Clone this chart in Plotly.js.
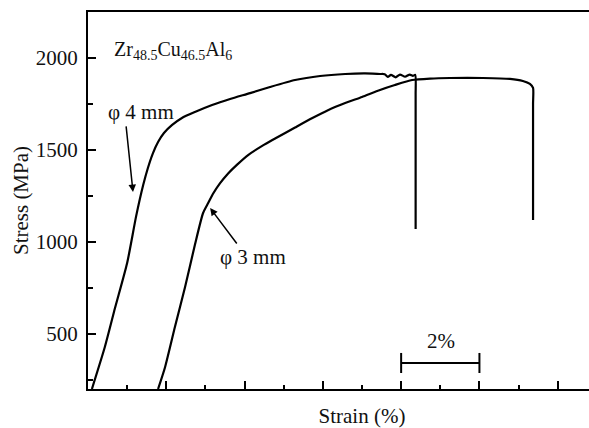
<!DOCTYPE html>
<html>
<head>
<meta charset="utf-8">
<script src="https://cdn.plot.ly/plotly-3.0.1.min.js"></script>
<style>
html,body{margin:0;padding:0;overflow:hidden;background:#fff;width:589px;height:428px;}
#chart{width:636px;height:428px;}
</style>
</head>
<body>
<div id="chart"></div>
<script>
// phi 4 mm sample: strain (%) and stress (MPa)
var strain4 = [0.10, 0.43, 0.69, 1.00, 1.23, 1.41, 1.53, 1.66, 1.79, 1.94, 2.15, 2.40, 2.73, 3.17, 3.63, 4.14, 4.65, 5.29, 5.93, 6.57, 7.08, 7.46, 7.58, 7.66, 7.74, 7.86, 7.97, 8.10, 8.22, 8.30, 8.36, 8.37, 8.37];
var stress4 = [200, 428, 640, 885, 1140, 1309, 1402, 1483, 1543, 1592, 1636, 1674, 1706, 1744, 1777, 1809, 1842, 1880, 1902, 1913, 1916, 1913, 1912, 1897, 1908, 1895, 1910, 1898, 1910, 1903, 1908, 1800, 1070];
// phi 3 mm sample
var strain3 = [1.79, 1.97, 2.22, 2.48, 2.73, 2.94, 3.07, 3.19, 3.37, 3.58, 3.81, 4.09, 4.45, 4.78, 5.29, 5.72, 6.13, 6.57, 7.00, 7.46, 7.84, 8.28, 8.74, 9.25, 10.09, 10.78, 11.11, 11.29, 11.37, 11.37, 11.37];
var stress3 = [200, 320, 537, 755, 983, 1157, 1211, 1260, 1318, 1372, 1420, 1472, 1522, 1562, 1622, 1672, 1716, 1755, 1788, 1826, 1853, 1880, 1888, 1891, 1891, 1886, 1875, 1859, 1837, 1750, 1119];
// scale bar (2 % strain)
var barStart = 8, barEnd = 10, barLevel = 341, barCapLow = 287, barCapHigh = 396;
var barLabel = '2%';
var yTickVals = [500, 1000, 1500, 2000];
var yTickText = ['500', '1000', '1500', '2000'];

var F = 'Liberation Serif, Times New Roman, serif';
var lineStyle = {color: '#000', width: 2.2, shape: 'spline', smoothing: 0.6};
var TXT = '#111';

var traces = [
  {x: strain4, y: stress4, mode: 'lines', line: lineStyle, name: '\u03c6 4 mm', hoverinfo: 'skip'},
  {x: strain3, y: stress3, mode: 'lines', line: lineStyle, name: '\u03c6 3 mm', hoverinfo: 'skip'},
  {x: [barStart, barStart, null, barStart, barEnd, null, barEnd, barEnd],
   y: [barCapLow, barCapHigh, null, barLevel, barLevel, null, barCapLow, barCapHigh],
   mode: 'lines', line: {color: '#000', width: 2}, name: 'scale', hoverinfo: 'skip'}
];

var layout = {
  width: 636, height: 428,
  margin: {l: 88, r: 0, t: 12, b: 39},
  paper_bgcolor: '#fff', plot_bgcolor: '#fff',
  showlegend: false,
  font: {family: F, size: 21, color: TXT},
  xaxis: {
    range: [0, 14], showgrid: false, zeroline: false,
    showline: true, linecolor: '#000', linewidth: 2, mirror: true,
    ticks: 'inside', tick0: 0, dtick: 2, ticklen: 8, tickwidth: 2, tickcolor: '#000',
    showticklabels: false,
    minor: {ticks: 'inside', dtick: 1, tick0: 0, ticklen: 4, tickwidth: 2, tickcolor: '#000'},
    title: {text: 'Strain (%)', font: {family: F, size: 21, color: TXT}, standoff: 22}
  },
  yaxis: {
    range: [200, 2250], showgrid: false, zeroline: false,
    showline: true, linecolor: '#000', linewidth: 2, mirror: false,
    ticks: 'inside', tickvals: yTickVals, ticktext: yTickText, ticklen: 8, tickwidth: 2, tickcolor: '#000',
    minor: {ticks: 'inside', dtick: 250, tick0: 0, ticklen: 5, tickwidth: 2, tickcolor: '#000'},
    tickfont: {family: F, size: 21, color: TXT},
    ticklabelstandoff: 4,
    title: {text: 'Stress (MPa)', font: {family: F, size: 21, color: TXT}, standoff: 1}
  },
  annotations: [
    {x: 0.61, y: 2043, xref: 'x', yref: 'y', xanchor: 'left', yanchor: 'middle', showarrow: false,
     text: 'Zr<sub>48.5</sub>Cu<sub>46.5</sub>Al<sub>6</sub>', font: {family: F, size: 20, color: TXT}},
    {x: 0.46, y: 1706, xref: 'x', yref: 'y', xanchor: 'left', yanchor: 'middle', showarrow: false,
     text: '\u03c6 4 mm', font: {family: F, size: 21, color: TXT}},
    {x: 3.32, y: 918, xref: 'x', yref: 'y', xanchor: 'left', yanchor: 'middle', showarrow: false,
     text: '\u03c6 3 mm', font: {family: F, size: 21, color: TXT}},
    {x: 9.02, y: 461, xref: 'x', yref: 'y', xanchor: 'center', yanchor: 'middle', showarrow: false,
     text: barLabel, font: {family: F, size: 21, color: TXT}},
    {x: 1.15, y: 1271, ax: 0.97, ay: 1636, xref: 'x', yref: 'y', axref: 'x', ayref: 'y', text: '',
     showarrow: true, arrowhead: 2, arrowsize: 1, arrowwidth: 1.5, arrowcolor: '#000'},
    {x: 3.12, y: 1184, ax: 3.83, ay: 983, xref: 'x', yref: 'y', axref: 'x', ayref: 'y', text: '',
     showarrow: true, arrowhead: 2, arrowsize: 1, arrowwidth: 1.5, arrowcolor: '#000'}
  ]
};

Plotly.newPlot('chart', traces, layout, {staticPlot: true, displayModeBar: false});
</script>
</body>
</html>
